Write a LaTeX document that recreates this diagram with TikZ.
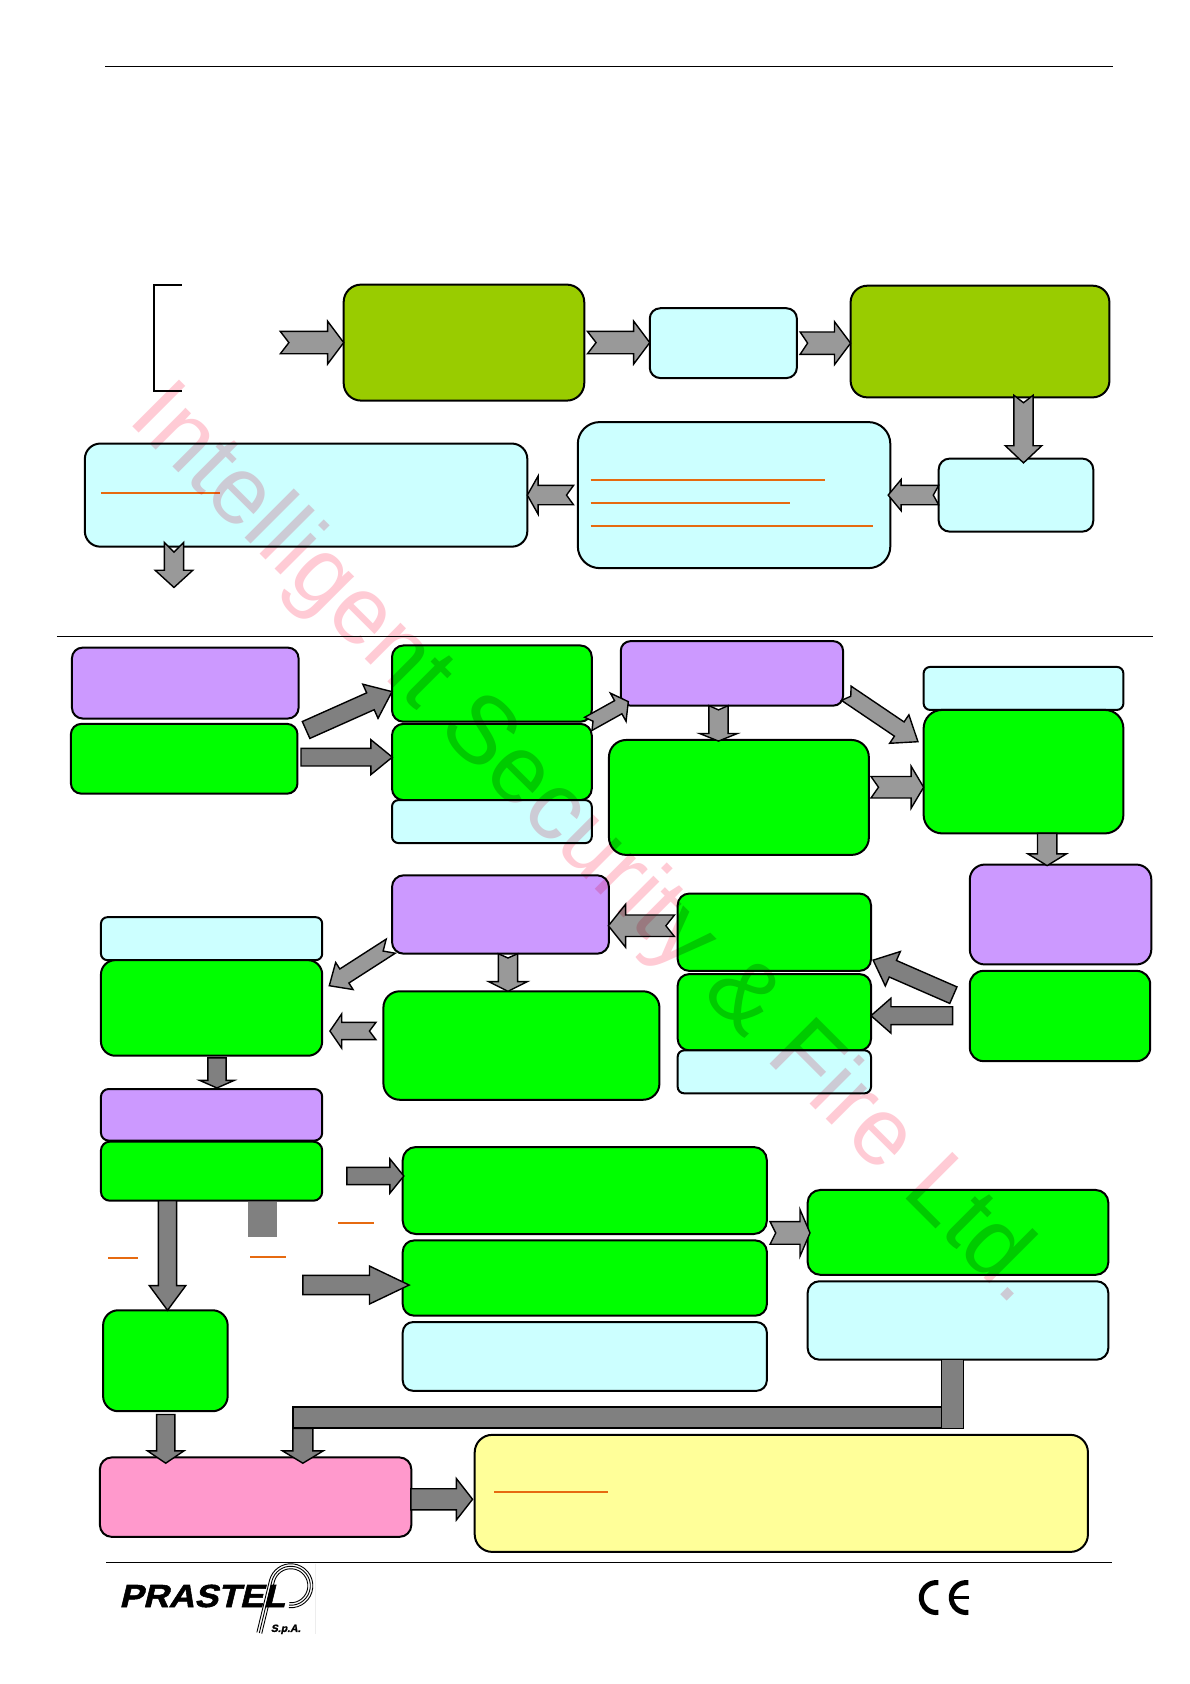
\documentclass[tikz,border=0pt]{standalone}
\usepackage{fontspec}
\setmainfont{Liberation Sans}
\newfontfamily\logofont[FakeBold=1.6,FakeSlant=0.22]{Liberation Sans Bold}
\usetikzlibrary{calc}
\definecolor{olivec}{HTML}{99CC00}
\definecolor{cyanc}{HTML}{CCFFFF}
\definecolor{greenc}{HTML}{00FF00}
\definecolor{purplec}{HTML}{CC99FF}
\definecolor{pinkc}{HTML}{FF99CC}
\definecolor{yellowc}{HTML}{FFFF99}
\definecolor{orangec}{HTML}{E66A10}
\definecolor{wmark}{HTML}{FFCBD5}
\def\uu{1.07401pt}
\tikzset{
  boxbase/.style={draw=black,line width=2pt,inner sep=0pt,outer sep=0pt},
  olivebox/.style={boxbase,fill=olivec},
  cyanbox/.style={boxbase,fill=cyanc},
  greenbox/.style={boxbase,fill=greenc},
  purplebox/.style={boxbase,fill=purplec},
  pinkbox/.style={boxbase,fill=pinkc},
  yellowbox/.style={boxbase,fill=yellowc},
  rule/.style={draw=black,line width=1.1pt},
  accent/.style={draw=orangec,line width=2pt},
  lightarrow/.style={draw=black,line width=1.4pt,fill=black!40,line join=miter},
  darkarrow/.style={draw=black,line width=1.4pt,fill=black!50,line join=miter},
}
% \bx{style}{name}{x1}{y1}{x2}{y2}
\newcommand\bx[6]{%
  \pgfmathsetmacro\bw{(#5-#3)*1.07401}%
  \pgfmathsetmacro\bh{(#6-#4)*1.07401}%
  \pgfmathsetmacro\br{0.15*min(\bw,\bh)}%
  \node[#1,minimum width=\bw pt,minimum height=\bh pt,rounded corners=\br pt] (#2) at ({(#3+#5)/2},{(#4+#6)/2}) {};%
}
% \barrow[style]{from}{to}{shaft half}{head half}{head length}{notch}
\newcommand\barrow[7][lightarrow]{%
  \coordinate (ba) at #2;
  \coordinate (bb) at #3;
  \coordinate (bn) at ($(bb)!#6*\uu!(ba)$);
  \draw[#1] ($(ba)!#4*\uu!90:(bb)$) -- ($(bn)!#4*\uu!90:(bb)$) -- ($(bn)!#5*\uu!90:(bb)$) -- (bb)
    -- ($(bn)!#5*\uu!-90:(bb)$) -- ($(bn)!#4*\uu!-90:(bb)$) -- ($(ba)!#4*\uu!-90:(bb)$)
    -- ($(ba)!#7*\uu!(bb)$) -- cycle;
}
\begin{document}
\begin{tikzpicture}[x=1.07401pt,y=-1.07401pt]
\useasboundingbox (0,0) rectangle (1108,1568);
\fill[white] (0,0) rectangle (1108,1568);
% rules
\coordinate (ruleTopL) at (98,62); \coordinate (ruleTopR) at (1036,62);
\coordinate (ruleMidL) at (53,593); \coordinate (ruleMidR) at (1074,593);
\coordinate (ruleBotL) at (99,1455); \coordinate (ruleBotR) at (1035,1455);
\draw[rule] (ruleTopL) -- (ruleTopR);
\draw[rule] (ruleMidL) -- (ruleMidR);
\draw[rule] (ruleBotL) -- (ruleBotR);
% bracket
\coordinate (brA) at (169,265); \coordinate (brB) at (143,265);
\coordinate (brC) at (143,364); \coordinate (brD) at (169,364);
\draw[draw=black,line width=2pt] (brA) -- (brB) -- (brC) -- (brD);
% top section
\bx{olivebox}{A}{320}{265}{544}{373}
\bx{cyanbox}{B}{605}{287}{742}{352}
\bx{olivebox}{C}{792}{266}{1033}{370}
\bx{cyanbox}{D}{874}{427}{1018}{495}
\bx{cyanbox}{E}{538}{393}{829}{529}
\bx{cyanbox}{F}{79}{413}{491}{509}
% lower section
\bx{purplebox}{P1}{67}{603}{278}{669}
\bx{greenbox}{G1}{66}{674}{277}{739}
\bx{greenbox}{G2}{365}{601}{551}{672}
\bx{greenbox}{G3}{365}{674}{551}{745}
\bx{cyanbox}{C3}{365}{745}{551}{785}
\bx{purplebox}{P2}{578}{597}{785}{657}
\bx{greenbox}{G4}{567}{689}{809}{796}
\bx{cyanbox}{C5}{860}{621}{1046}{661}
\bx{greenbox}{G5}{860}{661}{1046}{776}
\bx{purplebox}{P3}{903}{805}{1072}{898}
\bx{greenbox}{G6}{903}{904}{1071}{988}
\bx{greenbox}{G7}{631}{832}{811}{904}
\bx{greenbox}{G8}{631}{907}{811}{978}
\bx{cyanbox}{C8}{631}{978}{811}{1018}
\bx{purplebox}{P4}{365}{815}{567}{888}
\bx{greenbox}{G9}{357}{923}{614}{1024}
\bx{cyanbox}{C10}{94}{854}{300}{894}
\bx{greenbox}{G10}{94}{894}{300}{983}
\bx{purplebox}{P5}{94}{1014}{300}{1062}
\bx{greenbox}{G11}{94}{1063}{300}{1118}
\bx{greenbox}{G12}{375}{1068}{714}{1149}
\bx{greenbox}{G13}{375}{1155}{714}{1225}
\bx{cyanbox}{C13}{375}{1231}{714}{1295}
\bx{greenbox}{G14}{752}{1108}{1032}{1187}
\bx{cyanbox}{C14}{752}{1193}{1032}{1266}
\bx{greenbox}{G15}{96}{1220}{212}{1314}
\bx{pinkbox}{H}{93}{1357}{383}{1431}
\bx{yellowbox}{Y}{442}{1336}{1013}{1445}
% accent lines
\coordinate (o1a) at (94,459); \coordinate (o1b) at (205,459);
\coordinate (o2a) at (550,447); \coordinate (o2b) at (768,447);
\coordinate (o3a) at (550,468); \coordinate (o3b) at (736,468);
\coordinate (o4a) at (550,490); \coordinate (o4b) at (813,490);
\coordinate (o5a) at (101,1171); \coordinate (o5b) at (128.5,1171);
\coordinate (o6a) at (233,1170); \coordinate (o6b) at (266,1170);
\coordinate (o7a) at (315,1139); \coordinate (o7b) at (348,1139);
\coordinate (o8a) at (460,1389); \coordinate (o8b) at (566,1389);
\draw[accent] (o1a) -- (o1b);
\draw[accent] (o2a) -- (o2b);
\draw[accent] (o3a) -- (o3b);
\draw[accent] (o4a) -- (o4b);
\draw[accent] (o5a) -- (o5b);
\draw[accent] (o6a) -- (o6b);
\draw[accent] (o7a) -- (o7b);
\draw[accent] (o8a) -- (o8b);
% arrows, top section
\coordinate (start) at (261,319);
\barrow{(start)}{(A.west)}{10.4}{20}{15}{8}
\barrow{($(A.east)+(3,0)$)}{(B.west |- A.east)}{10.4}{20}{15}{8}
\barrow{($(B.east)+(3,0)$)}{(C.west |- B.east)}{10.4}{20}{15}{7}
\barrow{($(C.south)+(40.5,-2)$)}{($(D.north)+(7,4)$)}{9}{17}{16}{7}
\barrow{(D.west)}{($(E.east)+(-2,0)$)}{9}{14.5}{12}{5}
\barrow{($(E.west)+(-4,0)$)}{(F.east)}{9}{17.7}{10}{6.5}
\coordinate (down) at (162,547);
\barrow{($(F.south)+(-123,-4)$)}{(down)}{9}{17.5}{16}{9}
% arrows, lower section
\barrow[darkarrow]{($(P1.south east)+(7,10.7)$)}{($(G2.west)+(0,7.5)$)}{8.6}{17.4}{22}{0}
\barrow[darkarrow]{($(G1.east)+(3.3,-1.5)$)}{($(G3.west)+(0.3,-4.5)$)}{8.2}{16.3}{20}{0}
\barrow{($(G2.south east)+(-3.2,2)$)}{($(P2.west)+(7,26.3)$)}{7}{15}{10.7}{5}
\barrow{($(P2.south)+(-12.5,0)$)}{($(G4.north)+(-19,1)$)}{9}{17.5}{7}{4}
\barrow{($(P2.south east)+(3,-11.5)$)}{($(G5.north west)+(-5.3,29.6)$)}{8}{16}{21}{5}
\barrow{($(G4.east)+(2,-9.5)$)}{($(G5.west)+(0,14.5)$)}{10}{19.5}{11.6}{7}
\barrow{($(G5.south)+(22,0)$)}{($(P3.north)+(-12.5,1)$)}{9}{18}{11}{0}
\barrow{($(G7.west)+(-3,-6)$)}{($(P4.east)+(-0.5,10.5)$)}{10}{20}{16}{8}
\barrow[darkarrow]{($(G6.north west)+(-15.3,22.6)$)}{($(G7.south east)+(2,-10)$)}{8.4}{17.5}{20}{0}
\barrow[darkarrow]{($(G6.west)+(-16,-0.3)$)}{($(G8.east)+(0,3.2)$)}{8.3}{16.3}{18.6}{0}
\barrow{($(P4.south west)+(-1.2,-7)$)}{($(G10.north east)+(6.6,23.8)$)}{7.8}{15}{16.7}{8.4}
\barrow{($(G9.north west)+(-7,37)$)}{($(G10.east)+(7.2,21.5)$)}{8}{16}{11}{6}
\barrow{($(P4.south)+(7,0)$)}{($(G9.north)+(-12.5,0)$)}{9}{18}{9}{4}
\barrow[darkarrow]{($(G10.south)+(5,2)$)}{($(P5.north)+(5,-1)$)}{8.5}{16}{7}{0}
\coordinate (g11out) at (323,1095);
\barrow[darkarrow]{(g11out)}{($(G12.west)+(1,-13.5)$)}{8}{16}{13}{0}
\coordinate (g13in) at (282,1196.5);
\barrow[darkarrow]{(g13in)}{($(G13.west)+(6,6.5)$)}{9}{17.7}{37}{0}
\barrow[darkarrow]{($(G11.south)+(-41,0)$)}{($(G15.north)+(2,0)$)}{8.5}{17}{23}{0}
\barrow{($(G12.east)+(3,39.5)$)}{($(G14.west)+(2.2,0.5)$)}{10.5}{21.7}{9.3}{5.3}
\barrow[darkarrow]{($(G15.south)+(0.3,3)$)}{($(H.north)+(-83.7,5.4)$)}{8.5}{17}{11.5}{0}
% stub and bus
\coordinate (stubA) at (231,1119); \coordinate (stubB) at (258,1152);
\fill[black!50] (stubA) rectangle (stubB);
\coordinate (busA) at (273,1310); \coordinate (busB) at (877,1330);
\coordinate (busC) at (877,1266); \coordinate (busD) at (897,1330);
\draw[black,line width=2pt,fill=black!50] (busA) rectangle (busB);
\draw[black,line width=1pt,fill=black!50] (busC) rectangle (busD);
\barrow[darkarrow]{($(H.north)+(44,-27)$)}{($(H.north)+(44,5.4)$)}{9.3}{19}{11.5}{0}
\barrow[darkarrow]{($(H.east)+(-0.5,2)$)}{($(Y.west)+(-2,5.5)$)}{9.8}{19.2}{15}{0}
% logo
\coordinate (cc) at (270.8,1476.5);
\foreach \r in {22,19.5,17}{
  \draw[black,line width=0.9pt] ([shift={(-95:\r pt)}]cc) arc[start angle=-95,delta angle=260,radius=\r pt] -- ++(-12.7pt,-52.3pt);
}
\node[anchor=base west,inner sep=0pt,xscale=1.11,font=\fontsize{32}{32}\selectfont\logofont] (logo) at (110.8,1496.3) {PRASTEL};
\node[anchor=base west,inner sep=0pt,font=\fontsize{10.5}{10.5}\selectfont\logofont] (spa) at (252,1519.5) {S.p.A.};
\coordinate (faintA) at (294,1456); \coordinate (faintB) at (294,1521);
\draw[black!7,line width=0.8pt] (faintA) -- (faintB);
% CE mark
\coordinate (ceC) at (871.8,1487.5);
\coordinate (ceE) at (899.7,1487.5);
\draw[black,line width=5pt] ([shift={(82:15pt)}]ceC) arc[start angle=82,delta angle=196,radius=15pt];
\draw[black,line width=5pt] ([shift={(82:15pt)}]ceE) arc[start angle=82,delta angle=196,radius=15pt];
\coordinate (ceBarA) at (886.5,1487.5); \coordinate (ceBarB) at (902,1487.5);
\draw[black,line width=3.5pt] (ceBarA) -- (ceBarB);
% watermark
\begin{scope}[blend mode=multiply]
\node[anchor=base,inner sep=0pt,rotate=-45,text=wmark,font=\fontsize{96}{96}\selectfont] (wm) at (531,804.5) {Intelligent Security \& Fire Ltd.};
\end{scope}
\end{tikzpicture}
\end{document}
